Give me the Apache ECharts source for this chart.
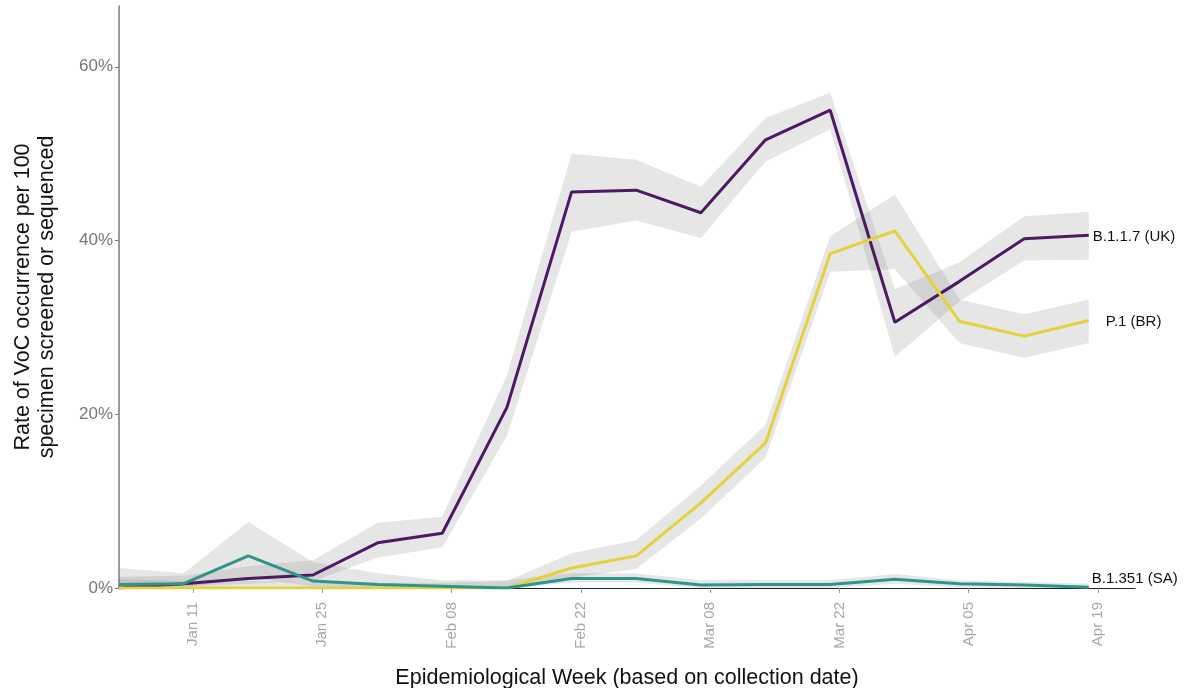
<!DOCTYPE html>
<html>
<head>
<meta charset="utf-8">
<script src="https://cdn.jsdelivr.net/npm/echarts@6/dist/echarts.min.js"></script>
<style>
    html, body { margin: 0; padding: 0; background: #fff; }
    #chart { width: 1185px; height: 688px; }
</style>
</head>
<body>
<div id="chart"></div>
<script>
// epidemiological weeks (week start, Sunday)
var weeks = ['2021-01-03', '2021-01-10', '2021-01-17', '2021-01-24', '2021-01-31', '2021-02-07',
    '2021-02-14', '2021-02-21', '2021-02-28', '2021-03-07', '2021-03-14', '2021-03-21',
    '2021-03-28', '2021-04-04', '2021-04-11', '2021-04-18'];
var tickDates = ['2021-01-11', '2021-01-25', '2021-02-08', '2021-02-22', '2021-03-08', '2021-03-22', '2021-04-05', '2021-04-19'];
var tickLabels = ['Jan 11', 'Jan 25', 'Feb 08', 'Feb 22', 'Mar 08', 'Mar 22', 'Apr 05', 'Apr 19'];
var yTicks = [0, 20, 40, 60];

// B.1.1.7 (UK)
var ukRate  = [0, 0.5, 1.1, 1.5, 5.2, 6.3, 20.8, 45.6, 45.8, 43.2, 51.6, 55.0, 30.6, 35.3, 40.2, 40.6];
var ukLower = [0, 0.2, 0.5, 0.8, 3.5, 4.7, 17.5, 41.0, 42.3, 40.3, 49.1, 52.8, 26.6, 33.0, 37.7, 37.8];
var ukUpper = [1.3, 1.4, 2.5, 3.2, 7.5, 8.2, 24.5, 50.0, 49.3, 46.2, 54.1, 57.0, 34.4, 37.5, 42.8, 43.3];
// P.1 (BR)
var brRate  = [0, 0, 0, 0, 0, 0, 0, 2.3, 3.7, 9.8, 16.7, 38.5, 41.1, 30.7, 29.0, 30.8];
var brLower = [0, 0, 0, 0, 0, 0, 0, 1.2, 2.2, 8.0, 15.0, 36.4, 36.7, 28.2, 26.5, 28.2];
var brUpper = [1.0, 0.8, 0.8, 0.7, 0.6, 0.6, 0.8, 4.0, 5.5, 11.8, 18.8, 40.5, 45.3, 33.2, 31.5, 33.2];
// B.1.351 (SA)
var saRate  = [0.4, 0.5, 3.7, 0.8, 0.4, 0.2, 0, 1.1, 1.1, 0.35, 0.4, 0.4, 1.0, 0.5, 0.35, 0.1];
var saLower = [0, 0, 1.2, 0.2, 0, 0, 0, 0.6, 0.6, 0, 0, 0, 0.5, 0.1, 0, 0];
var saUpper = [2.3, 1.7, 7.6, 3.0, 1.7, 0.9, 0.9, 1.7, 1.7, 0.9, 0.9, 0.9, 1.6, 0.9, 0.7, 0.5];

var font = 'Liberation Sans, Arial, sans-serif';
function toTime(s) {
    var p = s.split('-');
    return Date.UTC(+p[0], +p[1] - 1, +p[2]);
}
var weekTimes = weeks.map(toTime);
var tickTimes = tickDates.map(toTime);
var xMin = weekTimes[0];
var xMax = toTime('2021-04-23');

function pairs(vals) {
    return vals.map(function (v, i) { return [weekTimes[i], v]; });
}
// confidence ribbon: one polygon (upper edge, then lower edge backwards)
function bandSeries(lower, upper) {
    return {
        type: 'custom',
        silent: true,
        data: weekTimes.map(function (t, i) { return [t, lower[i], upper[i]]; }),
        encode: { x: 0, y: [1, 2] },
        renderItem: function (params, api) {
            if (params.dataIndex !== 0) return;
            var pts = [];
            for (var i = 0; i < weekTimes.length; i++) {
                pts.push(api.coord([weekTimes[i], upper[i]]));
            }
            for (var j = weekTimes.length - 1; j >= 0; j--) {
                pts.push(api.coord([weekTimes[j], lower[j]]));
            }
            return {
                type: 'polygon',
                shape: { points: pts },
                style: { fill: 'rgba(128,128,128,0.2)' }
            };
        }
    };
}
function lineSeries(name, vals, color, offset) {
    return {
        name: name, type: 'line', data: pairs(vals), symbol: 'none', silent: true,
        lineStyle: { color: color, width: 3 },
        endLabel: {
            show: true, formatter: '{a}', color: '#111', fontSize: 15,
            fontFamily: font, offset: offset
        }
    };
}

var series = [
    bandSeries(ukLower, ukUpper),
    bandSeries(brLower, brUpper),
    bandSeries(saLower, saUpper),
    lineSeries('B.1.1.7 (UK)', ukRate, '#4c1a62', [-4, 2]),
    lineSeries('P.1 (BR)', brRate, '#e3d239', [9, 1]),
    lineSeries('B.1.351 (SA)', saRate, '#2e958a', [-5, -8])
];

var myChart = echarts.init(document.getElementById('chart'));
var option = {
    animation: false,
    backgroundColor: '#fff',
    grid: { left: 119, right: 50, top: 6, bottom: 100, outerBoundsMode: 'none', containLabel: false },
    xAxis: {
        type: 'value',
        min: xMin,
        max: xMax,
        name: 'Epidemiological Week (based on collection date)',
        nameLocation: 'middle',
        nameGap: 79,
        nameTextStyle: { fontSize: 21.5, color: '#111', fontFamily: font },
        splitLine: { show: false },
        axisLine: { show: true, onZero: false, lineStyle: { color: '#222', width: 1 } },
        axisTick: { show: true, length: 5, customValues: tickTimes, lineStyle: { color: '#999' } },
        axisLabel: {
            customValues: tickTimes,
            rotate: 90,
            margin: 14,
            fontSize: 15,
            color: '#a8a8a8',
            fontFamily: font,
            formatter: function (v) {
                var i = tickTimes.indexOf(v);
                return i >= 0 ? tickLabels[i] : '';
            }
        }
    },
    yAxis: {
        type: 'value',
        min: 0,
        max: 67,
        name: 'Rate of VoC occurrence per 100\nspecimen screened or sequenced',
        nameLocation: 'middle',
        nameGap: 60,
        nameTextStyle: { fontSize: 21.5, color: '#111', lineHeight: 24, fontFamily: font },
        splitLine: { show: false },
        axisLine: { show: true, lineStyle: { color: '#7a7a7a', width: 1.5 } },
        axisTick: { show: true, length: 4, customValues: yTicks, lineStyle: { color: '#7a7a7a' } },
        axisLabel: {
            customValues: yTicks,
            margin: 6,
            fontSize: 17,
            color: '#777',
            fontFamily: font,
            formatter: '{value}%'
        }
    },
    series: series
};
myChart.setOption(option);
</script>
</body>
</html>
